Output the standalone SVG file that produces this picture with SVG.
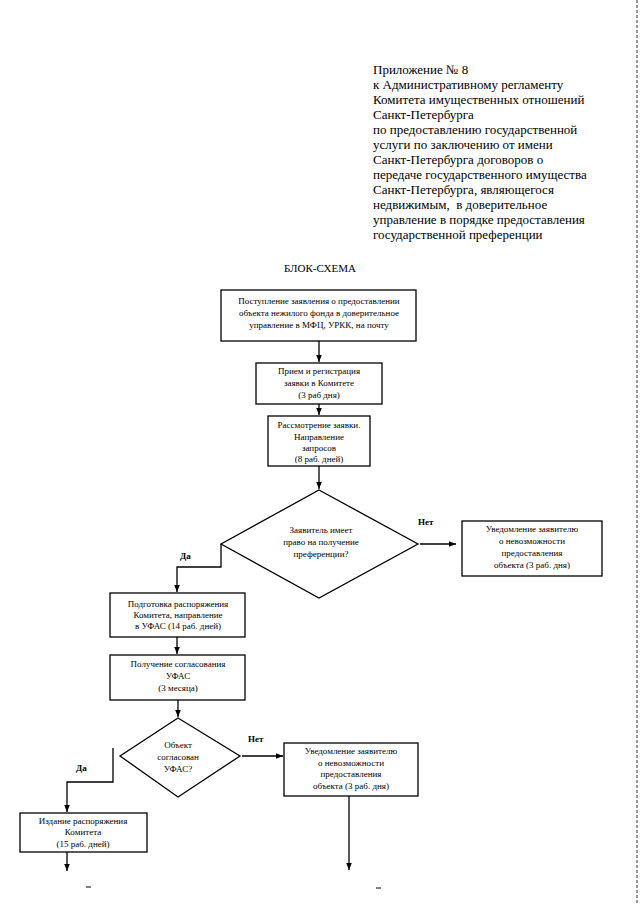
<svg xmlns="http://www.w3.org/2000/svg" width="640" height="905" viewBox="0 0 640 905">
<defs>
<marker id="ah" viewBox="0 0 10 10" refX="10" refY="5" markerWidth="7" markerHeight="7" markerUnits="userSpaceOnUse" orient="auto">
<path d="M0,1 L10,5 L0,9 z" fill="#000"/>
</marker>
<style>
.hdr{font-family:"Liberation Serif",serif;font-size:13px;fill:#000}
.title{font-family:"Liberation Serif",serif;font-size:11px;fill:#000}
.t{font-family:"Liberation Serif",serif;font-size:9px;fill:#000;text-anchor:middle}
.lbl{font-family:"Liberation Serif",serif;font-size:9px;font-weight:bold;fill:#000}
.box{fill:#fff;stroke:#000;stroke-width:1.3}
.c{fill:none;stroke:#000;stroke-width:1.3}
</style>
</defs>
<rect width="640" height="905" fill="#fff"/>
<line x1="637" y1="0" x2="637" y2="905" stroke="#777" stroke-width="1.5" stroke-dasharray="3,2"/>

<g id="header">
<text class="hdr" x="373" y="74">Приложение № 8</text>
<text class="hdr" x="373" y="89">к Административному регламенту</text>
<text class="hdr" x="373" y="104">Комитета имущественных отношений</text>
<text class="hdr" x="373" y="119">Санкт-Петербурга</text>
<text class="hdr" x="373" y="134">по предоставлению государственной</text>
<text class="hdr" x="373" y="149">услуги по заключению от имени</text>
<text class="hdr" x="373" y="164">Санкт-Петербурга договоров о</text>
<text class="hdr" x="373" y="179">передаче государственного имущества</text>
<text class="hdr" x="373" y="194">Санкт-Петербурга, являющегося</text>
<text class="hdr" x="373" y="209" xml:space="preserve">недвижимым,  в доверительное</text>
<text class="hdr" x="373" y="224">управление в порядке предоставления</text>
<text class="hdr" x="373" y="239">государственной преференции</text>
</g>

<g id="title">
<text class="title" x="320" y="272" text-anchor="middle">БЛОК-СХЕМА</text>
</g>

<g id="connectors">
<path class="c" d="M319,341 V362" marker-end="url(#ah)"/>
<path class="c" d="M319,404 V415" marker-end="url(#ah)"/>
<path class="c" d="M319,466 V489" marker-end="url(#ah)"/>
<path class="c" d="M420,544 H456" marker-end="url(#ah)"/>
<path class="c" d="M221,544 V567 H177 V592" marker-end="url(#ah)"/>
<path class="c" d="M177,637 V654" marker-end="url(#ah)"/>
<path class="c" d="M178,700 V717" marker-end="url(#ah)"/>
<path class="c" d="M242,756 H283" marker-end="url(#ah)"/>
<path class="c" d="M113,748 V782 H67 V812" marker-end="url(#ah)"/>
<path class="c" d="M67,852 V871" marker-end="url(#ah)"/>
<path class="c" d="M349,796 V870" marker-end="url(#ah)"/>
<text class="lbl" x="418" y="525">Нет</text>
<text class="lbl" x="180" y="559">Да</text>
<text class="lbl" x="248" y="742">Нет</text>
<text class="lbl" x="76" y="771">Да</text>
</g>

<g id="n1">
<rect class="box" x="221" y="290" width="195" height="51"/>
<text class="t" x="319" y="304">Поступление заявления о предоставлении</text>
<text class="t" x="319" y="316">объекта нежилого фонда в доверительное</text>
<text class="t" x="319" y="328">управление в МФЦ, УРКК, на почту</text>
</g>

<g id="n2">
<rect class="box" x="256" y="363" width="126" height="41"/>
<text class="t" x="319" y="374">Прием и регистрация</text>
<text class="t" x="319" y="386">заявки в Комитете</text>
<text class="t" x="319" y="398">(3 раб дня)</text>
</g>

<g id="n3">
<rect class="box" x="268" y="416" width="102" height="50"/>
<text class="t" x="319" y="428">Рассмотрение заявки.</text>
<text class="t" x="319" y="440">Направление</text>
<text class="t" x="319" y="451">запросов</text>
<text class="t" x="319" y="462">(8 раб. дней)</text>
</g>

<g id="d1">
<polygon class="box" points="319,490 418,544 319,598 221,544"/>
<text class="t" x="321" y="533">Заявитель имеет</text>
<text class="t" x="321" y="545">право на получение</text>
<text class="t" x="321" y="557">преференции?</text>
</g>

<g id="n4">
<rect class="box" x="462" y="521" width="140" height="55"/>
<text class="t" x="532" y="532">Уведомление заявителю</text>
<text class="t" x="532" y="544">о невозможности</text>
<text class="t" x="532" y="556">предоставления</text>
<text class="t" x="532" y="568">объекта (3 раб. дня)</text>
</g>

<g id="n5">
<rect class="box" x="110" y="593" width="135" height="44"/>
<text class="t" x="178" y="607">Подготовка распоряжения</text>
<text class="t" x="178" y="618">Комитета, направление</text>
<text class="t" x="178" y="629">в УФАС (14 раб. дней)</text>
</g>

<g id="n6">
<rect class="box" x="110" y="655" width="135" height="45"/>
<text class="t" x="178" y="667">Получение согласования</text>
<text class="t" x="178" y="679">УФАС</text>
<text class="t" x="178" y="691">(3 месяца)</text>
</g>

<g id="d2">
<polygon class="box" points="178,718 240,756 178,797 120,756"/>
<text class="t" x="178" y="748">Объект</text>
<text class="t" x="178" y="760">согласован</text>
<text class="t" x="178" y="772">УФАС?</text>
</g>

<g id="n7">
<rect class="box" x="284" y="743" width="134" height="53"/>
<text class="t" x="351" y="754">Уведомление заявителю</text>
<text class="t" x="351" y="766">о невозможности</text>
<text class="t" x="351" y="777">предоставления</text>
<text class="t" x="351" y="789">объекта (3 раб. дня)</text>
</g>

<g id="n8">
<rect class="box" x="20" y="813" width="127" height="39"/>
<text class="t" x="83" y="824">Издание распоряжения</text>
<text class="t" x="83" y="835">Комитета</text>
<text class="t" x="83" y="847">(15 раб. дней)</text>
</g>

<g id="marks">
<line x1="86" y1="887" x2="91" y2="887" stroke="#000" stroke-width="1"/>
<line x1="376" y1="888" x2="381" y2="888" stroke="#000" stroke-width="1"/>
</g>
</svg>
